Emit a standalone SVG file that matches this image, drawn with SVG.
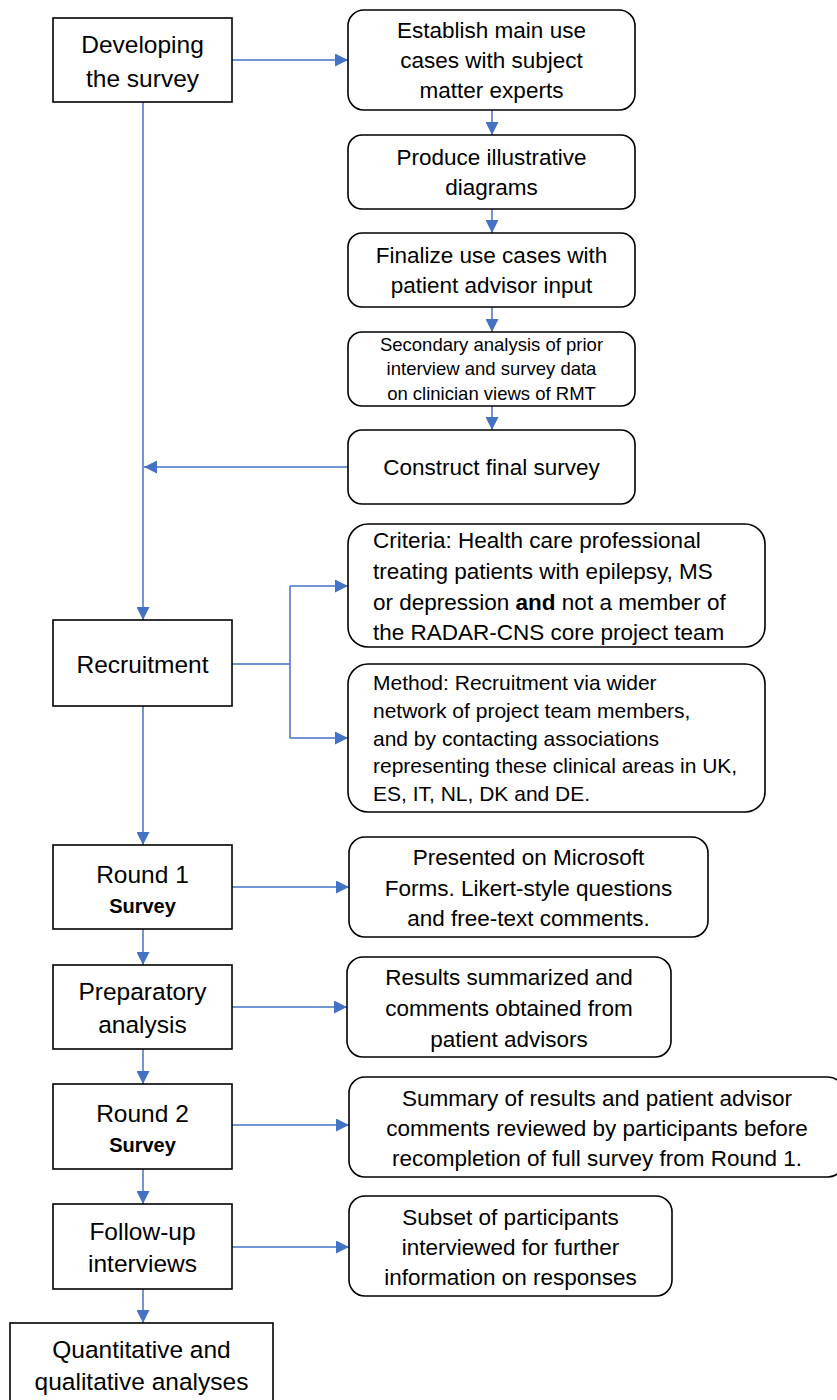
<svg xmlns="http://www.w3.org/2000/svg" width="837" height="1400" viewBox="0 0 837 1400">
<style>
.bx{fill:#fff;stroke:#000;stroke-width:1.6}
.t{font-family:"Liberation Sans",Arial,sans-serif;fill:#000}
.l{font-size:24.5px;text-anchor:middle}
.r{font-size:22.5px;text-anchor:middle}
.b{font-weight:bold;font-size:20px}
.c{stroke:#4472C4;stroke-width:1.5;fill:none}
</style>
<defs>
<marker id="ah" markerUnits="userSpaceOnUse" markerWidth="13" markerHeight="13" refX="13" refY="6.5" orient="auto">
<path d="M0,0 L13,6.5 L0,13 z" fill="#4472C4"/>
</marker>
</defs>
<rect width="837" height="1400" fill="#fff"/>
<g id="connectors">
<path class="c" d="M232,60 H348" marker-end="url(#ah)"/>
<path class="c" d="M143,102 V620" marker-end="url(#ah)"/>
<path class="c" d="M492,110 V135" marker-end="url(#ah)"/>
<path class="c" d="M492,209 V233" marker-end="url(#ah)"/>
<path class="c" d="M492,307 V332" marker-end="url(#ah)"/>
<path class="c" d="M492,406 V430" marker-end="url(#ah)"/>
<path class="c" d="M348,467 H144" marker-end="url(#ah)"/>
<path class="c" d="M232,664 H290 M290,586 V738"/>
<path class="c" d="M290,586 H348" marker-end="url(#ah)"/>
<path class="c" d="M290,738 H348" marker-end="url(#ah)"/>
<path class="c" d="M143,706 V845" marker-end="url(#ah)"/>
<path class="c" d="M232,887 H349" marker-end="url(#ah)"/>
<path class="c" d="M143,929 V965" marker-end="url(#ah)"/>
<path class="c" d="M232,1007 H347" marker-end="url(#ah)"/>
<path class="c" d="M143,1049 V1084" marker-end="url(#ah)"/>
<path class="c" d="M232,1125 H349" marker-end="url(#ah)"/>
<path class="c" d="M143,1169 V1204" marker-end="url(#ah)"/>
<path class="c" d="M232,1247 H349" marker-end="url(#ah)"/>
<path class="c" d="M143,1289 V1323" marker-end="url(#ah)"/>
</g>
<g id="developing">
<rect class="bx" x="53" y="18" width="179" height="84"/>
<text class="t l" x="142.5" y="53">Developing</text>
<text class="t l" x="142.5" y="87">the survey</text>
</g>
<g id="establish">
<rect class="bx" x="348" y="10" width="287" height="100" rx="16"/>
<text class="t r" x="491.5" y="38">Establish main use</text>
<text class="t r" x="491.5" y="68">cases with subject</text>
<text class="t r" x="491.5" y="98">matter experts</text>
</g>
<g id="produce">
<rect class="bx" x="348" y="135" width="287" height="74" rx="14"/>
<text class="t r" x="491.5" y="165">Produce illustrative</text>
<text class="t r" x="491.5" y="195">diagrams</text>
</g>
<g id="finalize">
<rect class="bx" x="348" y="233" width="287" height="74" rx="14"/>
<text class="t r" x="491.5" y="263">Finalize use cases with</text>
<text class="t r" x="491.5" y="293">patient advisor input</text>
</g>
<g id="secondary">
<rect class="bx" x="348" y="332" width="287" height="74" rx="14"/>
<text class="t" x="491.5" y="351" font-size="18.5" text-anchor="middle">Secondary analysis of prior</text>
<text class="t" x="491.5" y="375" font-size="18.5" text-anchor="middle">interview and survey data</text>
<text class="t" x="491.5" y="400" font-size="18.5" text-anchor="middle">on clinician views of RMT</text>
</g>
<g id="construct">
<rect class="bx" x="348" y="430" width="287" height="74" rx="14"/>
<text class="t r" x="491.5" y="475">Construct final survey</text>
</g>
<g id="recruitment">
<rect class="bx" x="53" y="620" width="179" height="86"/>
<text class="t l" x="142.5" y="673">Recruitment</text>
</g>
<g id="criteria">
<rect class="bx" x="348" y="524" width="417" height="123" rx="20"/>
<text class="t" x="373" y="548" font-size="22.5">Criteria: Health care professional</text>
<text class="t" x="373" y="579" font-size="22.5">treating patients with epilepsy, MS</text>
<text class="t" x="373" y="610" font-size="22.5">or depression <tspan font-weight="bold">and</tspan> not a member of</text>
<text class="t" x="373" y="640" font-size="22.5">the RADAR-CNS core project team</text>
</g>
<g id="method">
<rect class="bx" x="348" y="664" width="417" height="148" rx="20"/>
<text class="t" x="373" y="690" font-size="21">Method: Recruitment via wider</text>
<text class="t" x="373" y="718" font-size="21">network of project team members,</text>
<text class="t" x="373" y="746" font-size="21">and by contacting associations</text>
<text class="t" x="373" y="773" font-size="21">representing these clinical areas in UK,</text>
<text class="t" x="373" y="801" font-size="21">ES, IT, NL, DK and DE.</text>
</g>
<g id="round1">
<rect class="bx" x="53" y="845" width="179" height="84"/>
<text class="t l" x="142.5" y="883">Round 1</text>
<text class="t b" x="142.5" y="913" text-anchor="middle">Survey</text>
</g>
<g id="presented">
<rect class="bx" x="349" y="837" width="359" height="100" rx="16"/>
<text class="t r" x="528.5" y="865">Presented on Microsoft</text>
<text class="t r" x="528.5" y="896">Forms. Likert-style questions</text>
<text class="t r" x="528.5" y="926">and free-text comments.</text>
</g>
<g id="preparatory">
<rect class="bx" x="53" y="965" width="179" height="84"/>
<text class="t l" x="142.5" y="1000">Preparatory</text>
<text class="t l" x="142.5" y="1033">analysis</text>
</g>
<g id="results">
<rect class="bx" x="347" y="957" width="324" height="100" rx="16"/>
<text class="t r" x="509" y="985">Results summarized and</text>
<text class="t r" x="509" y="1016">comments obtained from</text>
<text class="t r" x="509" y="1047">patient advisors</text>
</g>
<g id="round2">
<rect class="bx" x="53" y="1084" width="179" height="85"/>
<text class="t l" x="142.5" y="1122">Round 2</text>
<text class="t b" x="142.5" y="1152" text-anchor="middle">Survey</text>
</g>
<g id="summary">
<rect class="bx" x="349" y="1077" width="495" height="100" rx="16"/>
<text class="t r" x="597" y="1106">Summary of results and patient advisor</text>
<text class="t r" x="597" y="1136">comments reviewed by participants before</text>
<text class="t r" x="597" y="1166">recompletion of full survey from Round 1.</text>
</g>
<g id="followup">
<rect class="bx" x="53" y="1204" width="179" height="85"/>
<text class="t l" x="142.5" y="1240">Follow-up</text>
<text class="t l" x="142.5" y="1272">interviews</text>
</g>
<g id="subset">
<rect class="bx" x="349" y="1196" width="323" height="100" rx="16"/>
<text class="t r" x="510.5" y="1225">Subset of participants</text>
<text class="t r" x="510.5" y="1255">interviewed for further</text>
<text class="t r" x="510.5" y="1285">information on responses</text>
</g>
<g id="quantitative">
<rect class="bx" x="10" y="1323" width="263" height="100"/>
<text class="t l" x="141.5" y="1358">Quantitative and</text>
<text class="t l" x="141.5" y="1390">qualitative analyses</text>
</g>
</svg>
